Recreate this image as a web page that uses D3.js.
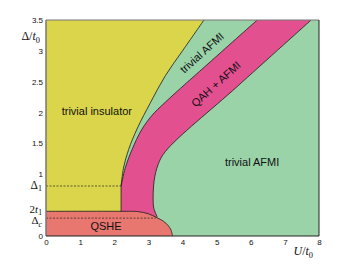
<!DOCTYPE html>
<meta charset="utf-8">
<style>
  body { margin: 0; background: #fff; }
  .tick text { font-family: "Liberation Sans", Arial, sans-serif; font-size: 8px; fill: #111; }
  .region-label { font-family: "Liberation Sans", Arial, sans-serif; font-size: 11px; fill: #111; }
  .math { font-family: "Liberation Serif", "Times New Roman", serif; font-size: 12px; fill: #111; }
</style>
<body>
<div id="chart"></div>
<script src="https://cdn.jsdelivr.net/npm/d3@7"></script>
<script>

// axis ticks
const uTicks = [0, 1, 2, 3, 4, 5, 6, 7, 8];
const deltaTicks = [0, 1, 1.5, 2, 2.5, 3, 3.5];

// special energy levels (Delta/t0)
const delta1 = 0.81;
const twoT1 = 0.4;
const deltaC = 0.29;

// phase boundaries, [U/t0, Delta/t0]
const qsheEdge = [[0, 0.4], [2.2, 0.4], [2.7, 0.395], [3.0, 0.36], [3.24, 0.30], [3.44, 0.24], [3.58, 0.17], [3.66, 0.1], [3.71, 0]];
const insulatorEdge = [[2.2, 0.81], [2.27, 1.1], [2.42, 1.4], [2.68, 1.75], [3.05, 2.15], [3.5, 2.6], [4.0, 3.0], [4.63, 3.5]];
const qahLeftEdge = [[2.2, 0.81], [2.32, 1.1], [2.52, 1.4], [2.8, 1.72], [3.1, 1.95], [3.5, 2.17], [4.85, 2.84], [6.19, 3.5]];
const qahRightEdge = [[3.26, 0.31], [3.16, 0.45], [3.14, 0.6], [3.17, 0.9], [3.28, 1.15], [3.5, 1.37], [5.6, 2.42], [7.77, 3.5]];

// phase names and where they sit
const phaseNames = ["trivial insulator", "trivial AFMI", "QSHE", "trivial AFMI", "QAH + AFMI"];
const phaseSpots = [[1.49, 1.96], [6.04, 1.13], [1.76, 0.1], [4.57, 2.97], [4.98, 2.46]];
const phaseTilt = [0, 0, 0, -42, -42];

const width = 353, height = 266;
const colors = {
  insulator: "#dbd54b",
  afmi: "#9bd3a9",
  qah: "#e3508f",
  qshe: "#e8776f"
};

const x = d3.scaleLinear().domain([0, 8]).range([46, 319]);
const y = d3.scaleLinear().domain([0, 3.5]).range([236, 20]);

const svg = d3.select("#chart").append("svg")
  .attr("width", width)
  .attr("height", height);

svg.append("clipPath").attr("id", "plot")
  .append("rect")
  .attr("x", x(0)).attr("y", y(3.5))
  .attr("width", x(8) - x(0)).attr("height", y(0) - y(3.5));

const smooth = d3.line().x(d => x(d[0])).y(d => y(d[1])).curve(d3.curveCatmullRom.alpha(0.5));
const straight = d3.line().x(d => x(d[0])).y(d => y(d[1]));

// join several line pieces into one closed outline
function outline(pieces) {
  return pieces.map((p, i) => {
    const s = (p.smooth ? smooth : straight)(p.pts);
    return i ? s.replace(/^M/, "L") : s;
  }).join("") + "Z";
}

const g = svg.append("g").attr("clip-path", "url(#plot)");

// the big trivial AFMI area is the background
g.append("rect")
  .attr("x", x(0)).attr("y", y(3.5))
  .attr("width", x(8) - x(0)).attr("height", y(0) - y(3.5))
  .attr("fill", colors.afmi);

g.append("path")
  .attr("fill", colors.insulator)
  .attr("d", outline([
    { pts: [[0, 0.2], [0, 3.5], [4.63, 3.5]] },
    { pts: insulatorEdge.slice().reverse(), smooth: true },
    { pts: [[2.2, 0.81], [2.2, 0.2]] }
  ]));

g.append("path")
  .attr("fill", colors.qah)
  .attr("d", outline([
    { pts: qahLeftEdge, smooth: true },
    { pts: [[6.19, 3.5], [7.77, 3.5]] },
    { pts: qahRightEdge.slice().reverse(), smooth: true },
    { pts: [[3.26, 0.31], [3.26, 0.2], [2.2, 0.2]] }
  ]));

g.append("path")
  .attr("fill", colors.qshe)
  .attr("d", outline([
    { pts: [[0, 0], [0, 0.4]] },
    { pts: qsheEdge, smooth: true },
    { pts: [[3.71, 0], [0, 0]] }
  ]));

// boundary lines
const edgeStyle = sel => sel.attr("fill", "none").attr("stroke", "#1a1a1a").attr("stroke-width", 0.8);
[qsheEdge, insulatorEdge, qahLeftEdge, qahRightEdge].forEach(e => {
  g.append("path").attr("d", smooth(e)).call(edgeStyle);
});
g.append("path").attr("d", straight([[2.2, twoT1], [2.2, delta1]])).call(edgeStyle);

// dashed energy levels
g.append("path").attr("d", straight([[0, delta1], [2.2, delta1]]))
  .attr("stroke", "#222").attr("stroke-width", 0.7).attr("stroke-dasharray", "2,1.5");
g.append("path").attr("d", straight([[0, deltaC], [3.22, deltaC]]))
  .attr("stroke", "#222").attr("stroke-width", 0.7).attr("stroke-dasharray", "2,1.5");

// frame
svg.append("line").attr("x1", x(0)).attr("x2", x(8)).attr("y1", y(3.5)).attr("y2", y(3.5))
  .attr("stroke", "#777").attr("stroke-width", 1);
svg.append("line").attr("x1", x(0)).attr("x2", x(0)).attr("y1", y(0)).attr("y2", y(3.5))
  .attr("stroke", "#777").attr("stroke-width", 1.5);
svg.append("line").attr("x1", x(0)).attr("x2", x(8)).attr("y1", y(0)).attr("y2", y(0))
  .attr("stroke", "#222").attr("stroke-width", 1);
svg.append("line").attr("x1", x(8)).attr("x2", x(8)).attr("y1", y(0)).attr("y2", y(3.5))
  .attr("stroke", "#222").attr("stroke-width", 1);

// axes
svg.append("g")
  .attr("transform", `translate(0,${y(0)})`)
  .call(d3.axisBottom(x).tickValues(uTicks).tickFormat(d3.format("d")).tickSize(0).tickPadding(3))
  .call(a => a.select(".domain").remove());

svg.append("g")
  .attr("transform", `translate(${x(0)},0)`)
  .call(d3.axisLeft(y).tickValues(deltaTicks).tickFormat(d => d).tickSize(0).tickPadding(3))
  .call(a => a.select(".domain").remove());

// math labels
function mathLabel(px, py, parts, size) {
  const t = svg.append("text").attr("class", "math").attr("x", px).attr("y", py)
    .attr("text-anchor", "end").style("font-size", (size || 12) + "px");
  parts.forEach(p => {
    const s = t.append("tspan").text(p.t);
    if (p.it) s.attr("font-style", "italic");
    if (p.sub) s.attr("font-size", ((size || 12) * 0.7) + "px").attr("dy", 2.5);
  });
  return t;
}

mathLabel(42, y(delta1) + 2.5, [{ t: "Δ" }, { t: "1", sub: true }], 11.5);
mathLabel(42, y(twoT1) + 1.5, [{ t: "2" }, { t: "t", it: true }, { t: "1", sub: true }], 11);
mathLabel(42, y(deltaC) + 6, [{ t: "Δ" }, { t: "c", it: true, sub: true }], 11);

mathLabel(40, 40, [{ t: "Δ/" }, { t: "t", it: true }, { t: "0", sub: true }]);
mathLabel(313, 255, [{ t: "U", it: true }, { t: "/" }, { t: "t", it: true }, { t: "0", sub: true }]);

// phase names
svg.selectAll(".region-label")
  .data(phaseNames)
  .join("text")
  .attr("class", "region-label")
  .attr("text-anchor", "middle")
  .attr("transform", (d, i) => `translate(${x(phaseSpots[i][0])},${y(phaseSpots[i][1])}) rotate(${phaseTilt[i]})`)
  .attr("dy", (d, i) => phaseTilt[i] ? "0.35em" : 0)
  .text(d => d);

</script>
</body>
